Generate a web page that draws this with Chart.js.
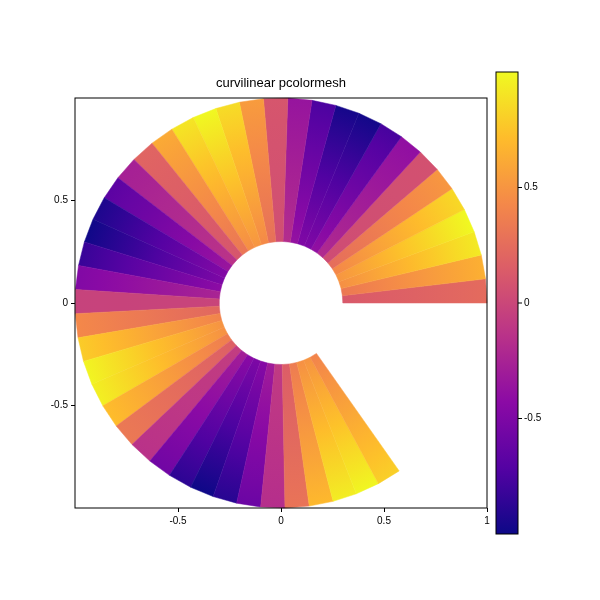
<!DOCTYPE html>
<html><head><meta charset="utf-8">
<script src="https://cdn.jsdelivr.net/npm/chart.js@4"></script>
<style>body{margin:0;background:#fff}#w{width:600px;height:600px}</style>
</head><body><div id="w"><canvas id="c"></canvas></div>
<script>
const innerRadius = 0.3, outerRadius = 1.0;
const thetaStartDeg = 0, thetaEndDeg = 305;
// outer-edge value of each wedge
const wedgeValues = [0.24,0.65,0.93,1.0,0.85,0.51,0.07,-0.40,-0.77,-0.98,-0.97,-0.75,-0.36,
 0.10,0.54,0.87,1.0,0.91,0.62,0.20,-0.27,-0.68,-0.94,-0.99,-0.83,-0.48,-0.03,
 0.43,0.79,0.98,0.96,0.72,0.33,-0.14,-0.57,-0.88,-1.0,-0.90,-0.60,-0.17,
 0.30,0.70,0.95,0.99,0.81];
// inner-edge values (weaker toward the hole)
const innerWedgeValues = wedgeValues.map(v=>v*0.5);
const xTicks = [-0.5,0,0.5,1];
const yTicks = [-0.5,0,0.5];
const cbTicks = [-0.5,0,0.5];
const cbMin = -1, cbMax = 1;
const FONT = '"Liberation Sans", Arial, sans-serif';

const plasma = [[13,8,135],[84,2,163],[139,10,165],[185,50,137],[219,92,104],[244,136,73],[254,188,43],[240,249,33]];
function cmap(v){
  let t=(v-cbMin)/(cbMax-cbMin); t=Math.max(0,Math.min(1,t));
  const s=t*(plasma.length-1), i=Math.min(Math.floor(s),plasma.length-2), f=s-i;
  const a=plasma[i],b=plasma[i+1];
  return `rgb(${a.map((x,k)=>Math.round(x+(b[k]-x)*f)).join(',')})`;
}
const mesh={id:'mesh',
  beforeDatasetsDraw(ch){
    const ctx=ch.ctx,xs=ch.scales.x,ys=ch.scales.y,n=wedgeValues.length;
    const P=(r,t)=>[xs.getPixelForValue(r*Math.cos(t)),ys.getPixelForValue(r*Math.sin(t))];
    const c=P(0,0), rOut=xs.getPixelForValue(outerRadius)-c[0], rIn=xs.getPixelForValue(innerRadius)-c[0];
    for(let i=0;i<n;i++){
      const t0=(thetaStartDeg+(thetaEndDeg-thetaStartDeg)*i/n)*Math.PI/180;
      const t1=(thetaStartDeg+(thetaEndDeg-thetaStartDeg)*(i+1)/n)*Math.PI/180;
      const pts=[P(innerRadius,t0),P(outerRadius,t0),P(outerRadius,t1),P(innerRadius,t1)];
      const g=ctx.createRadialGradient(c[0],c[1],rIn,c[0],c[1],rOut);
      for(let k=0;k<=6;k++){const f=k/6;g.addColorStop(f,cmap(innerWedgeValues[i]+(wedgeValues[i]-innerWedgeValues[i])*f));}
      ctx.beginPath();pts.forEach((p,k)=>k?ctx.lineTo(p[0],p[1]):ctx.moveTo(p[0],p[1]));ctx.closePath();
      ctx.fillStyle=g;ctx.fill();ctx.strokeStyle=g;ctx.lineWidth=0.5;ctx.stroke();
    }
  },
  afterDraw(ch){
    const ctx=ch.ctx,a=ch.chartArea;
    ctx.save();ctx.strokeStyle='#000';ctx.lineWidth=1;
    ctx.strokeRect(a.left,a.top,a.right-a.left,a.bottom-a.top);
    ctx.fillStyle='#000';ctx.font='13px '+FONT;ctx.textAlign='center';ctx.textBaseline='bottom';
    ctx.fillText('curvilinear pcolormesh',(a.left+a.right)/2,a.top-8);
    const L=496,R=518,T=72,B=534;
    const g=ctx.createLinearGradient(0,B,0,T);
    plasma.forEach((c,k)=>g.addColorStop(k/(plasma.length-1),`rgb(${c.join(',')})`));
    ctx.fillStyle=g;ctx.fillRect(L,T,R-L,B-T);ctx.strokeRect(L,T,R-L,B-T);
    ctx.font='10px '+FONT;ctx.textAlign='left';ctx.textBaseline='middle';ctx.fillStyle='#000';
    cbTicks.forEach(v=>{const y=B-(v-cbMin)/(cbMax-cbMin)*(B-T);
      ctx.beginPath();ctx.moveTo(R,y);ctx.lineTo(R+4,y);ctx.stroke();ctx.fillText(String(v),R+6,y);});
    ctx.restore();
  }};
const tickOpts=(arr)=>({
  afterBuildTicks(s){s.ticks=arr.map(v=>({value:v}));},
  ticks:{color:'#000',font:{size:10,family:FONT},maxRotation:0,autoSkip:false,padding:3,callback:v=>String(v)},
  grid:{drawOnChartArea:false,tickLength:4,color:'#000'},border:{display:false}
});
new Chart(document.getElementById('c'),{type:'scatter',data:{datasets:[{data:[]}]},
  options:{responsive:true,maintainAspectRatio:false,animation:false,
    layout:{padding:{left:35,top:98,right:113,bottom:62}},
    plugins:{legend:{display:false},tooltip:{enabled:false}},
    scales:{
      x:{min:-1,max:1,...tickOpts(xTicks),afterFit(s){s.height=30;}},
      y:{min:-1,max:1,...tickOpts(yTicks),afterFit(s){s.width=40;}}
    }},
  plugins:[mesh]});
</script></body></html>
